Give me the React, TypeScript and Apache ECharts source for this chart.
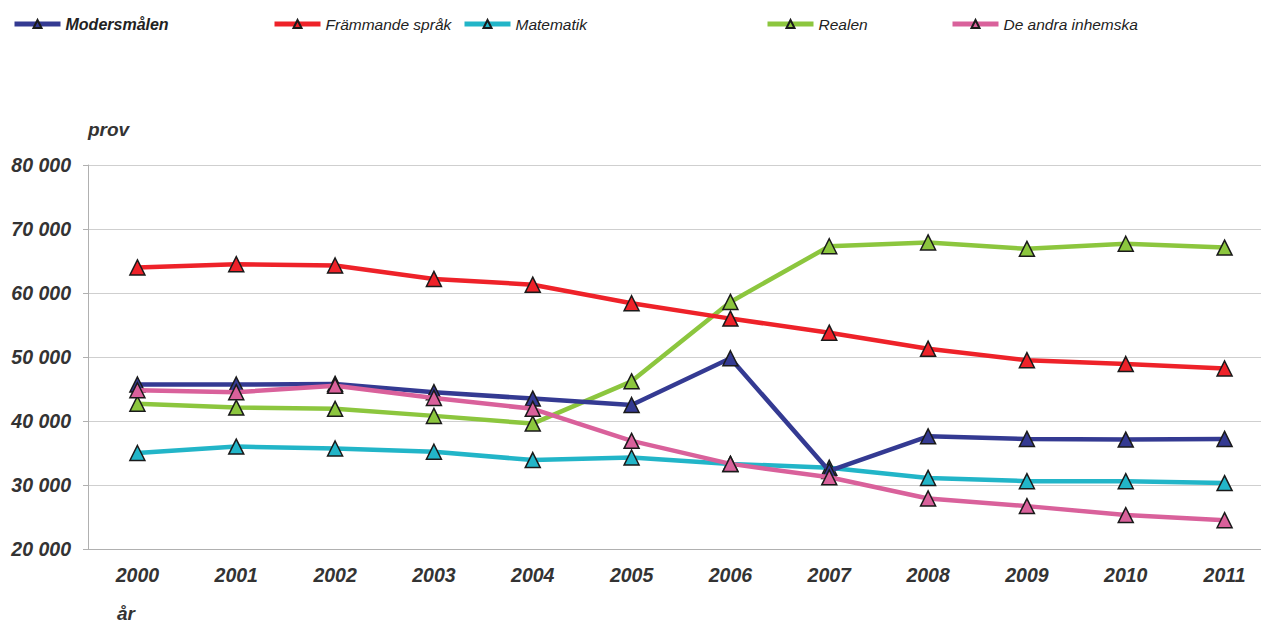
import React, { useEffect, useRef } from "react";
import * as echarts from "echarts";

const years = ["2000", "2001", "2002", "2003", "2004", "2005", "2006", "2007", "2008", "2009", "2010", "2011"];
const modersmalen = [45700, 45700, 45800, 44500, 43500, 42500, 49800, 32200, 37600, 37200, 37100, 37200];
const frammande = [64000, 64500, 64300, 62200, 61300, 58400, 56000, 53800, 51300, 49500, 48900, 48200];
const matematik = [35000, 36000, 35700, 35200, 33900, 34300, 33300, 32700, 31100, 30600, 30600, 30300];
const realen = [42700, 42100, 41900, 40800, 39600, 46200, 58600, 67300, 67900, 66900, 67700, 67100];
const andraInhemska = [44800, 44500, 45500, 43600, 41900, 36900, 33300, 31200, 27900, 26700, 25300, 24500];

const seriesNames = ["Modersmålen", "Främmande språk", "Matematik", "Realen", "De andra inhemska"];
const seriesData = [modersmalen, frammande, matematik, realen, andraInhemska];
const seriesColors = ["#343a92", "#ee2229", "#22b5c8", "#8cc63e", "#d9619b"];
const legendLefts = [12, 272, 462, 765, 950];

const FONT = "Liberation Sans, Arial, sans-serif";

export default function App() {
  const ref = useRef<HTMLDivElement>(null);
  useEffect(() => {
    if (!ref.current) return;
    const chart = echarts.init(ref.current, null, { renderer: "svg" });
    const drawOrder = [3, 1, 2, 0, 4];
    chart.setOption({
      animation: false,
      backgroundColor: "#ffffff",
      textStyle: { fontFamily: FONT },
      legend: seriesNames.map((n, i) => ({
        left: legendLefts[i],
        top: 16,
        padding: 0,
        itemWidth: 46,
        itemHeight: 10,
        lineStyle: { width: 5 },
        data: [
          {
            name: n,
            textStyle: {
              fontStyle: "italic",
              fontWeight: i === 0 ? "bold" : "normal",
              fontSize: i === 0 ? 16 : 15.5,
              color: "#222",
              fontFamily: FONT,
            },
          },
        ],
      })),
      grid: { left: 88, right: 1, top: 165, bottom: 74, containLabel: false },
      xAxis: {
        type: "category",
        data: years,
        boundaryGap: true,
        axisLine: { show: true, lineStyle: { color: "#b0b0b0", width: 1 } },
        axisTick: { show: false },
        axisLabel: {
          margin: 16,
          fontSize: 19.5,
          fontStyle: "italic",
          fontWeight: "bold",
          color: "#333",
          fontFamily: FONT,
        },
      },
      yAxis: {
        type: "value",
        min: 20000,
        max: 80000,
        interval: 10000,
        axisLine: { show: true, lineStyle: { color: "#b0b0b0", width: 1 } },
        axisTick: { show: true, length: 5, lineStyle: { color: "#b0b0b0" } },
        splitLine: { show: true, lineStyle: { color: "#cfcfcf", width: 1 } },
        axisLabel: {
          margin: 17,
          fontSize: 19.5,
          fontStyle: "italic",
          fontWeight: "bold",
          color: "#333",
          fontFamily: FONT,
          formatter: (v: number) => String(v).replace(/\B(?=(\d{3})+(?!\d))/g, " "),
        },
      },
      graphic: [
        {
          type: "text",
          left: 88,
          top: 120,
          style: { text: "prov", font: "italic bold 19px " + FONT, fill: "#333" },
        },
        {
          type: "text",
          left: 117,
          top: 604,
          style: { text: "år", font: "italic bold 19px " + FONT, fill: "#333" },
        },
      ],
      series: drawOrder.map((i) => ({
        name: seriesNames[i],
        type: "line",
        data: seriesData[i],
        z: 2 + drawOrder.indexOf(i),
        symbol: "triangle",
        symbolSize: 15,
        color: seriesColors[i],
        lineStyle: { width: 4.5, color: seriesColors[i] },
        itemStyle: { color: seriesColors[i], borderColor: "#1a1a1a", borderWidth: 1.5 },
      })),
    });
    return () => chart.dispose();
  }, []);
  return (
    <div style={{ position: "fixed", left: 0, top: 0, width: 1261, height: 623, overflow: "hidden" }}>
      <div ref={ref} style={{ width: 1275, height: 623 }} />
    </div>
  );
}
